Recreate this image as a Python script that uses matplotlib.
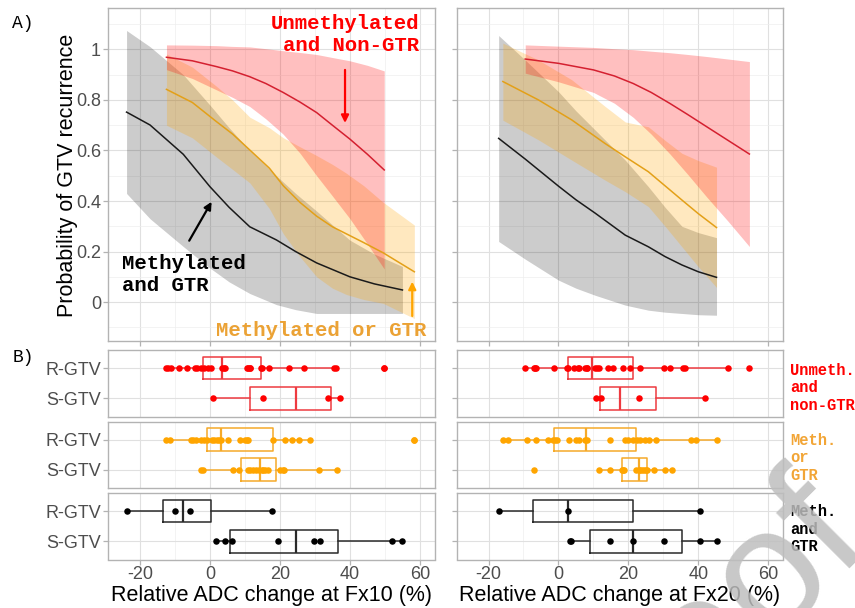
import matplotlib
matplotlib.use("Agg")
import matplotlib.pyplot as plt

# ---------------- Panel A: fitted probability curves with CI ----------------
# Fx10
a10_unmeth_x = [-12.4, -5.0, 1.9, 6.5, 11.4, 16.0, 20.9, 25.7, 30.5, 35.0, 40.0, 45.0, 49.8]
a10_unmeth_fit = [0.969, 0.955, 0.932, 0.915, 0.892, 0.865, 0.830, 0.792, 0.750, 0.700, 0.645, 0.585, 0.523]
a10_unmeth_lo = [0.920, 0.885, 0.840, 0.810, 0.774, 0.725, 0.665, 0.590, 0.500, 0.420, 0.330, 0.230, 0.131]
a10_unmeth_hi = [1.018, 1.017, 1.015, 1.012, 1.010, 1.003, 0.995, 0.988, 0.980, 0.968, 0.955, 0.937, 0.915]

a10_methor_x = [-12.4, -5.0, 1.9, 6.5, 11.4, 17.0, 21.0, 25.7, 30.5, 35.0, 39.0, 44.0, 49.5, 58.4]
a10_methor_fit = [0.842, 0.790, 0.714, 0.665, 0.602, 0.530, 0.460, 0.395, 0.340, 0.298, 0.270, 0.235, 0.195, 0.120]
a10_methor_lo = [0.700, 0.650, 0.574, 0.525, 0.472, 0.370, 0.270, 0.180, 0.100, 0.055, 0.030, 0.010, -0.005, -0.065]
a10_methor_hi = [0.982, 0.930, 0.854, 0.800, 0.732, 0.690, 0.650, 0.615, 0.580, 0.545, 0.510, 0.460, 0.395, 0.305]

a10_methand_x = [-23.8, -17.1, -7.6, 0.0, 5.5, 11.4, 19.0, 24.5, 30.5, 40.0, 47.0, 55.0]
a10_methand_fit = [0.752, 0.701, 0.585, 0.457, 0.375, 0.298, 0.246, 0.200, 0.155, 0.100, 0.072, 0.048]
a10_methand_lo = [0.430, 0.330, 0.220, 0.135, 0.080, 0.034, -0.010, -0.030, -0.045, -0.045, -0.045, -0.045]
a10_methand_hi = [1.075, 1.011, 0.900, 0.780, 0.690, 0.600, 0.500, 0.430, 0.360, 0.245, 0.190, 0.141]

# Fx20
a20_unmeth_x = [-9.5, 0.0, 10.0, 16.0, 21.4, 26.5, 31.9, 37.0, 42.4, 48.5, 54.6]
a20_unmeth_fit = [0.962, 0.945, 0.919, 0.895, 0.865, 0.830, 0.786, 0.742, 0.694, 0.640, 0.586]
a20_unmeth_lo = [0.906, 0.872, 0.830, 0.787, 0.731, 0.665, 0.586, 0.505, 0.416, 0.320, 0.220]
a20_unmeth_hi = [1.018, 1.013, 1.008, 1.003, 0.999, 0.993, 0.987, 0.980, 0.972, 0.962, 0.952]

a20_methor_x = [-15.9, -5.7, 3.8, 13.3, 19.1, 25.7, 30.5, 35.3, 40.0, 45.2]
a20_methor_fit = [0.873, 0.800, 0.721, 0.628, 0.575, 0.516, 0.460, 0.404, 0.350, 0.295]
a20_methor_lo = [0.720, 0.642, 0.562, 0.483, 0.437, 0.378, 0.300, 0.219, 0.140, 0.058]
a20_methor_hi = [1.025, 0.958, 0.880, 0.775, 0.713, 0.694, 0.640, 0.589, 0.560, 0.534]

a20_methand_x = [-17.1, -9.5, 0.0, 5.0, 10.5, 19.1, 25.7, 30.5, 35.3, 40.0, 45.2]
a20_methand_fit = [0.648, 0.566, 0.459, 0.405, 0.352, 0.265, 0.219, 0.180, 0.147, 0.120, 0.098]
a20_methand_lo = [0.240, 0.170, 0.087, 0.055, 0.027, -0.012, -0.032, -0.040, -0.045, -0.050, -0.052]
a20_methand_hi = [1.055, 0.958, 0.833, 0.757, 0.681, 0.562, 0.457, 0.375, 0.300, 0.275, 0.255]

# ---------------- Panel B: relative ADC change per group ----------------
# box stats: [whisker low, Q1, median, Q3, whisker high]
b10_unmeth_R = [-12.4, -11.9, -11.2, -8.8, -6.5, -4.3, -3.6, -2.4, -1.7, -0.5, 0.2, 3.6, 4.0, 4.4,
                10.5, 10.9, 11.4, 11.6, 14.6, 14.9, 17.0, 22.7, 26.9, 35.5, 36.0, 49.8, 49.8]
b10_unmeth_R_box = [-12.4, -2.1, 3.6, 14.6, 36.0]
b10_unmeth_S = [0.8, 15.2, 33.8, 37.1]
b10_unmeth_S_box = [0.8, 11.6, 24.5, 34.6, 37.1]
b10_methor_R = [-12.4, -11.4, -5.4, -4.7, -4.0, -2.4, -1.7, -0.8, 0.7, 1.2, 1.9, 2.6, 3.1, 5.2,
                8.6, 10.0, 10.7, 11.0, 18.1, 21.4, 23.5, 25.5, 28.6, 58.4, 58.4]
b10_methor_R_box = [-12.4, -0.8, 3.1, 17.9, 28.6]
b10_methor_S = [-2.4, -1.9, 6.7, 8.4, 11.0, 11.6, 12.4, 13.3, 14.1, 14.8, 15.2, 15.7, 16.7,
                20.0, 20.8, 21.1, 31.2, 36.2]
b10_methor_S_box = [-2.4, 9.0, 14.3, 19.0, 36.2]
b10_methand_R = [-23.8, -10.0, -5.7, 17.8]
b10_methand_R_box = [-23.8, -13.5, -7.8, 0.2, 17.8]
b10_methand_S = [1.7, 4.3, 6.2, 19.5, 29.8, 31.4, 51.9, 55.0]
b10_methand_S_box = [1.7, 5.7, 24.7, 36.5, 55.0]

b20_unmeth_R = [-9.5, -7.1, -6.7, -6.4, -1.2, 2.4, 2.7, 4.5, 5.5, 6.0, 7.6, 8.1, 8.3, 10.5, 11.0,
                11.7, 14.3, 15.5, 18.6, 20.5, 23.3, 30.2, 31.9, 35.5, 36.2, 48.6, 54.6]
b20_unmeth_R_box = [-9.5, 2.7, 9.5, 21.2, 48.6]
b20_unmeth_S = [10.8, 12.1, 23.1, 41.9]
b20_unmeth_S_box = [10.8, 11.9, 17.6, 27.8, 41.9]
b20_methor_R = [-15.9, -14.3, -8.9, -6.4, -2.9, -1.6, -0.95, -0.5, 3.1, 5.0, 6.0, 7.6, 8.1, 14.8,
                19.0, 20.0, 21.4, 22.4, 23.3, 24.8, 26.0, 27.9, 37.8, 39.3, 45.2]
b20_methor_R_box = [-15.9, -1.2, 7.9, 22.2, 45.2]
b20_methor_S = [-6.9, 11.6, 14.8, 18.1, 18.4, 18.8, 22.2, 22.9, 23.3, 23.8, 24.5, 25.0, 25.4,
                27.4, 30.5, 32.4]
b20_methor_S_box = [11.6, 18.3, 23.1, 25.4, 32.4]
b20_methand_R = [-17.1, 2.6, 40.5]
b20_methand_R_box = [-17.1, -7.3, 2.6, 21.4, 40.5]
b20_methand_S = [3.4, 3.6, 14.6, 21.4, 30.2, 40.5, 45.2]
b20_methand_S_box = [3.5, 9.0, 21.4, 35.4, 45.2]

x_ticks = [-20, 0, 20, 40, 60]
x_minor = [-10, 10, 30, 50]
y_ticks_a = [0, 0.2, 0.4, 0.6, 0.8, 1.0]
y_ticklabels_a = ["0", "0.2", "0.4", "0.6", "0.8", "1"]
y_minor_a = [-0.1, 0.1, 0.3, 0.5, 0.7, 0.9, 1.1]
box_labels = ["S-GTV", "R-GTV"]
strip_labels = ["Unmeth.\nand\nnon-GTR", "Meth.\nor\nGTR", "Meth.\nand\nGTR"]
x_titles = ["Relative ADC change at Fx10 (%)", "Relative ADC change at Fx20 (%)"]

# ---------------- styling ----------------
SANS = "Liberation Sans"
MONO = "Liberation Mono"
RED, ORANGE, BLACK = "#FF0000", "#FFA500", "#000000"
LINE_RED, LINE_OR, LINE_BK = "#D42030", "#E3A018", "#1A1A1A"
BORDER = "#B3B3B3"
TICKTXT = "#4D4D4D"
XLIM = (-29.1, 64.3)

W, H = 855, 608
fig = plt.figure(figsize=(W / 100, H / 100), dpi=100)


def ax_px(x0, y0, x1, y1):
    return fig.add_axes([x0 / W, 1 - y1 / H, (x1 - x0) / W, (y1 - y0) / H])


def style(ax):
    for s in ax.spines.values():
        s.set_color(BORDER)
        s.set_linewidth(1.0)
    ax.set_axisbelow(True)
    ax.grid(True, which="major", color="#E0E0E0", lw=0.8)
    ax.grid(True, which="minor", color="#EEEEEE", lw=0.5)
    ax.tick_params(which="major", color=BORDER, length=3.5, width=0.9,
                   labelcolor=TICKTXT, labelsize=13, pad=1.5)
    ax.tick_params(which="minor", length=0)
    ax.set_xlim(*XLIM)
    ax.set_xticks(x_ticks)
    ax.set_xticks(x_minor, minor=True)


col_x = [(108, 435), (456.7, 783.3)]
top_axes = [ax_px(col_x[0][0], 8, col_x[0][1], 341), ax_px(col_x[1][0], 8, col_x[1][1], 341)]

curves = [
    [(a10_methand_x, a10_methand_fit, a10_methand_lo, a10_methand_hi, BLACK, LINE_BK, 0.2),
     (a10_methor_x, a10_methor_fit, a10_methor_lo, a10_methor_hi, ORANGE, LINE_OR, 0.25),
     (a10_unmeth_x, a10_unmeth_fit, a10_unmeth_lo, a10_unmeth_hi, RED, LINE_RED, 0.25)],
    [(a20_methand_x, a20_methand_fit, a20_methand_lo, a20_methand_hi, BLACK, LINE_BK, 0.2),
     (a20_methor_x, a20_methor_fit, a20_methor_lo, a20_methor_hi, ORANGE, LINE_OR, 0.25),
     (a20_unmeth_x, a20_unmeth_fit, a20_unmeth_lo, a20_unmeth_hi, RED, LINE_RED, 0.25)],
]

for i, ax in enumerate(top_axes):
    style(ax)
    ax.set_ylim(-0.154, 1.164)
    ax.set_yticks(y_ticks_a)
    ax.set_yticks(y_minor_a, minor=True)
    ax.set_yticklabels(y_ticklabels_a if i == 0 else [])
    ax.set_xticklabels([])
    for x, fit, lo, hi, fcol, lcol, al in curves[i]:
        ax.fill_between(x, lo, hi, color=fcol, alpha=al, lw=0, zorder=2)
    for x, fit, lo, hi, fcol, lcol, al in curves[i]:
        ax.plot(x, fit, color=lcol, lw=1.1, zorder=3)

axA = top_axes[0]
ann = dict(family=MONO, weight="bold", fontsize=14.9, linespacing=1.2)
axA.text(59.7, 1.059, "Unmethylated\nand Non-GTR", color=RED, ha="right", va="center", **ann)
axA.text(-25.1, 0.111, "Methylated\nand GTR", color=BLACK, ha="left", va="center", **ann)
axA.text(31.7, -0.111, "Methylated or GTR", color="#EBA235", ha="center", va="center",
         clip_on=False, **ann)
arrow = dict(arrowstyle="-|>", mutation_scale=11, lw=1.6, shrinkA=0, shrinkB=0)
axA.annotate("", xy=(38.6, 0.709), xytext=(38.6, 0.919),
             arrowprops=dict(color=RED, **arrow))
axA.annotate("", xy=(0.49, 0.397), xytext=(-5.9, 0.243),
             arrowprops=dict(color=BLACK, **arrow))
axA.annotate("", xy=(57.8, 0.081), xytext=(57.8, -0.055),
             arrowprops=dict(color=ORANGE, **arrow), annotation_clip=False)

# ---------------- bottom panels ----------------
rows = [(350, 416.5), (421.5, 487.5), (493, 559.5)]
box_data = [
    [(b10_unmeth_R, b10_unmeth_R_box, b10_unmeth_S, b10_unmeth_S_box),
     (b10_methor_R, b10_methor_R_box, b10_methor_S, b10_methor_S_box),
     (b10_methand_R, b10_methand_R_box, b10_methand_S, b10_methand_S_box)],
    [(b20_unmeth_R, b20_unmeth_R_box, b20_unmeth_S, b20_unmeth_S_box),
     (b20_methor_R, b20_methor_R_box, b20_methor_S, b20_methor_S_box),
     (b20_methand_R, b20_methand_R_box, b20_methand_S, b20_methand_S_box)],
]
pt_cols = [RED, ORANGE, BLACK]
box_cols = ["#EE3A40", "#F5AA2A", "#2A2A2A"]

for c in range(2):
    for r in range(3):
        ax = ax_px(col_x[c][0], rows[r][0], col_x[c][1], rows[r][1])
        style(ax)
        ax.grid(False, which="minor", axis="y")
        ax.set_ylim(0.4, 2.6)
        ax.set_yticks([1, 2])
        ax.set_yticklabels(box_labels if c == 0 else [])
        if r < 2:
            ax.tick_params(axis="x", which="major", length=0, labelbottom=False)
        R, Rbox, S, Sbox = box_data[c][r]
        stats = []
        for b in (Sbox, Rbox):
            stats.append(dict(whislo=b[0], q1=b[1], med=b[2], q3=b[3], whishi=b[4], fliers=[]))
        bc = box_cols[r]
        ax.bxp(stats, positions=[1, 2], widths=0.75, orientation="horizontal",
               showfliers=False, showcaps=False, manage_ticks=False,
               boxprops=dict(color=bc, lw=1.1), whiskerprops=dict(color=bc, lw=1.1),
               medianprops=dict(color=bc, lw=1.6))
        ax.scatter(R, [2] * len(R), s=22, color=pt_cols[r], lw=0, zorder=4)
        ax.scatter(S, [1] * len(S), s=22, color=pt_cols[r], lw=0, zorder=4)
        if r == 2:
            ax.set_xticklabels([str(t) for t in x_ticks])

# strip labels
strip_cols = [RED, "#F2A536", BLACK]
strip_y = [388, 458, 529]
for lab, yc, col in zip(strip_labels, strip_y, strip_cols):
    fig.text(790 / W, 1 - yc / H, lab, color=col, family=MONO, weight="bold",
             fontsize=11.2, linespacing=1.22, ha="left", va="center")

# axis titles
fig.text(67 / W, 1 - 175 / H, "Probability of GTV recurrence", rotation=90,
         family=SANS, fontsize=15.5, ha="center", va="center", color="black")
for (x0, x1), t in zip(col_x, x_titles):
    fig.text((x0 + x1) / 2 / W, 1 - 595 / H, t, family=SANS, fontsize=15.5,
             ha="center", va="center", color="black")

fig.text(12 / W, 1 - 23 / H, "A)", family=MONO, fontsize=13, ha="left", va="center")
fig.text(13 / W, 1 - 357 / H, "B)", family=MONO, fontsize=13, ha="left", va="center")

for ax in fig.axes:
    for lab in ax.get_xticklabels() + ax.get_yticklabels():
        lab.set_family(SANS)

# watermark (partly outside the page, as in the reference)
fig.text(578 / W, 1 - 826 / H, "Proof", family=SANS, fontsize=124, color="#BEBEBE",
         alpha=0.85, rotation=45, rotation_mode="anchor", ha="left", va="baseline",
         zorder=10)

fig.savefig("out.png", dpi=100)
